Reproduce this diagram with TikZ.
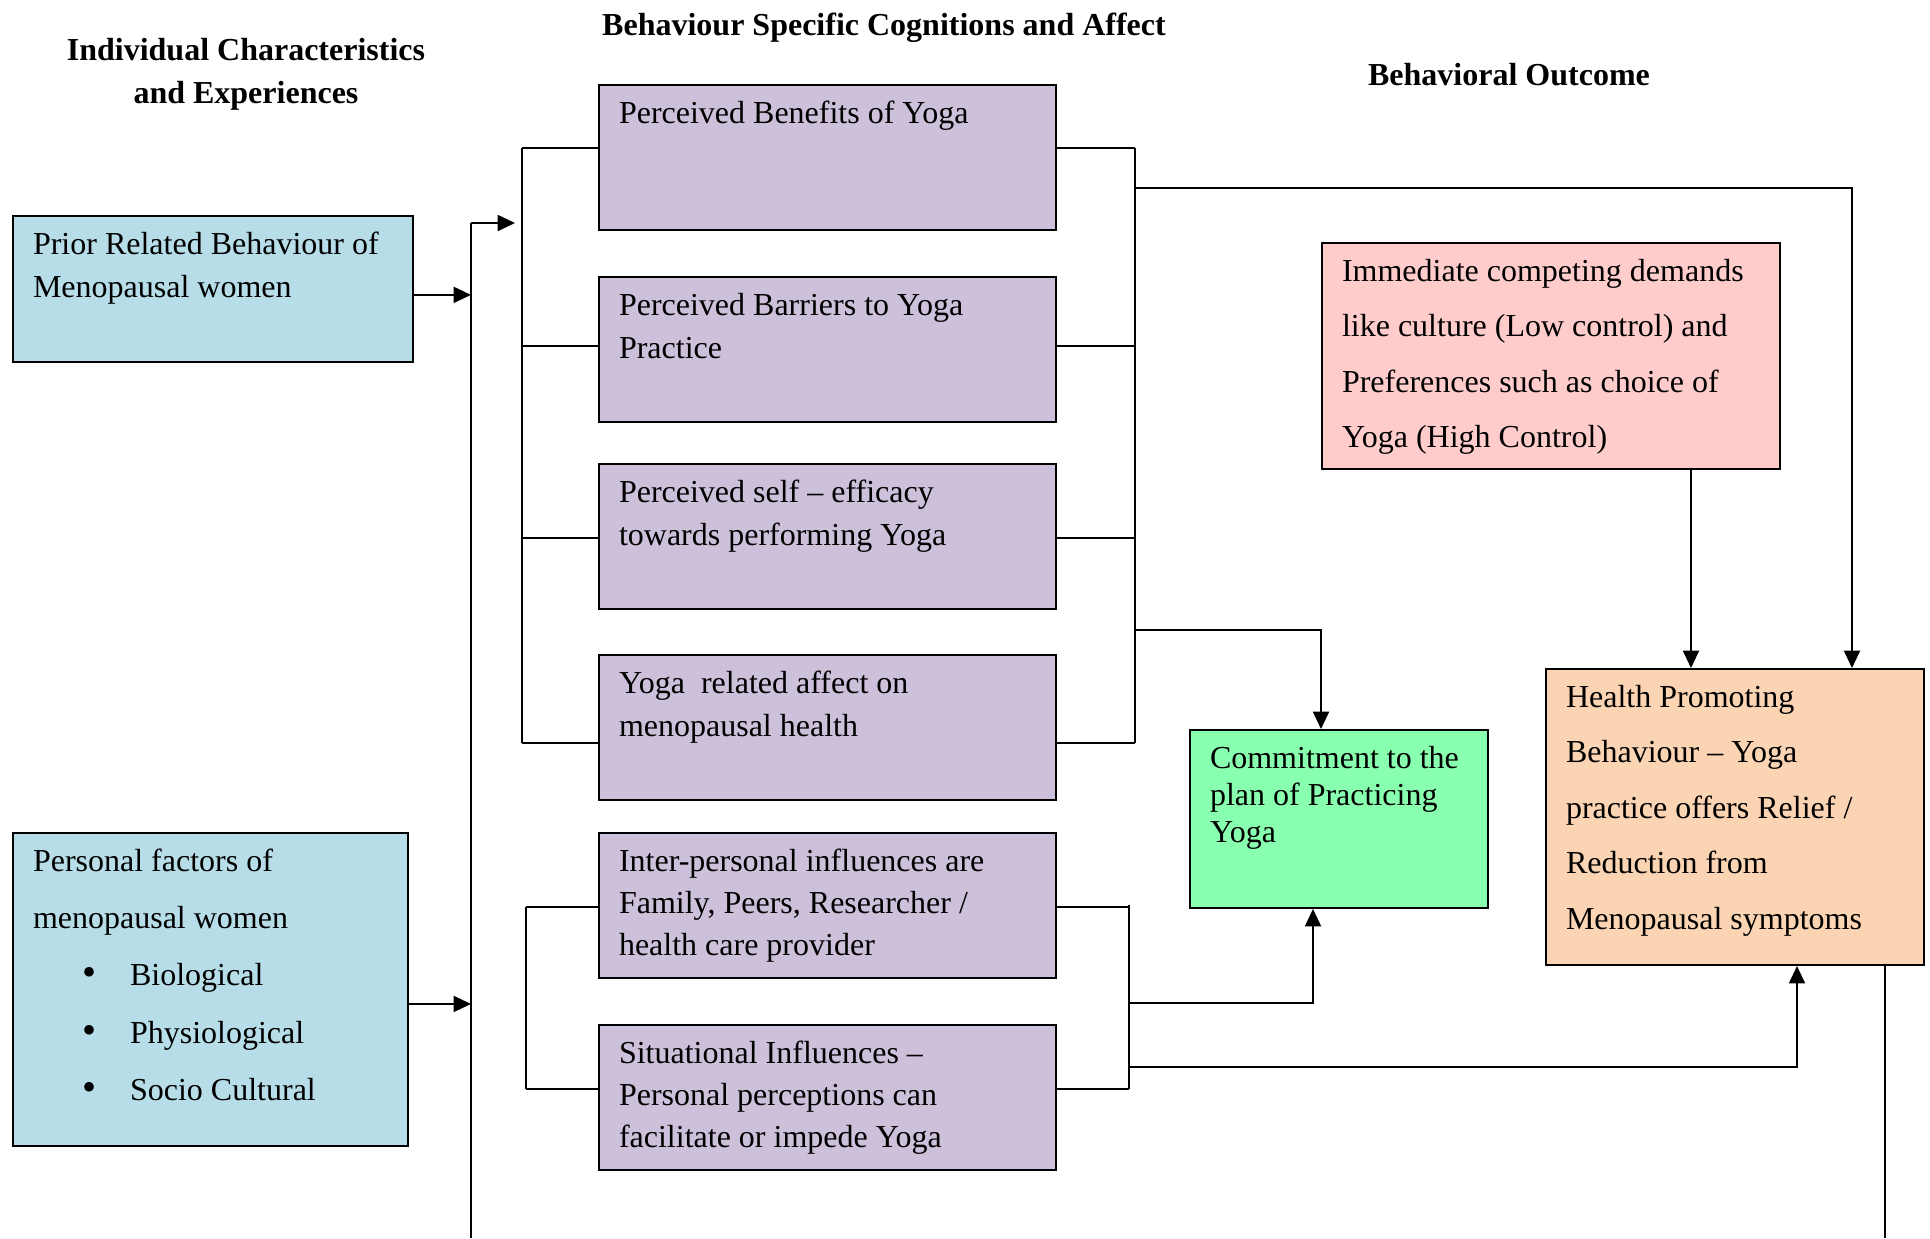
\documentclass[tikz,border=0pt]{standalone}
\usepackage{fontspec}
\setmainfont{Liberation Serif}
\usetikzlibrary{arrows.meta,positioning}
\definecolor{indblue}{HTML}{B7DDE8}
\definecolor{coglilac}{HTML}{CCC0DA}
\definecolor{demandpink}{HTML}{FFCCCC}
\definecolor{commitgreen}{HTML}{89FFB0}
\definecolor{outpeach}{HTML}{FBD4B4}
\newcommand{\boxtext}[4]{\parbox[c][#2][t]{#1}{\fontsize{12}{#3}\selectfont\raggedright\rule{0pt}{14.3pt}#4}}
\newcommand{\bul}[1]{\makebox[36.4pt][l]{\hspace*{18.5pt}{\fontsize{15}{15}\selectfont\textbullet}}#1}
\tikzset{box/.style={draw=black, line width=.75pt, anchor=north west, inner xsep=7.5pt, inner ysep=0pt}, cog/.style={box, fill=coglilac}, link/.style={line width=.7pt}, arr/.style={-{Triangle[length=6.5pt,width=6pt]}, line width=.7pt}, head/.style={font=\fontsize{12}{16.1}\selectfont\bfseries, align=center}}

\begin{document}
\begin{tikzpicture}[x=0.375pt,y=-0.375pt]
\useasboundingbox (0,0) rectangle (1930,1238);
% column titles
\node[head] (indtitle) at (246,74) {Individual Characteristics\\and Experiences};
\node[head] (cogtitle) at (884,28) {Behaviour Specific Cognitions and Affect};
\node[head] (outtitle) at (1509,75) {Behavioral Outcome};
% left column
\node[box, fill=indblue] (prior) at (12,215) {\boxtext{135pt}{54.75pt}{16.1pt}{Prior Related Behaviour of\\Menopausal women}};
\node[box, fill=indblue] (personal) at (12,832) {\boxtext{133pt}{117.4pt}{21.5pt}{Personal factors of\\menopausal women\\\bul{Biological}\\\bul{Physiological}\\\bul{Socio Cultural}}};
% middle column
\node[cog] (ben) at (598,84) {\boxtext{156.4pt}{54.4pt}{16.1pt}{Perceived Benefits of Yoga}};
\node[cog] (bar) at (598,276) {\boxtext{156.4pt}{54.4pt}{16.1pt}{Perceived Barriers to Yoga\\Practice}};
\node[cog] (eff) at (598,463) {\boxtext{156.4pt}{54.4pt}{16.1pt}{Perceived self -- efficacy\\towards performing Yoga}};
\node[cog] (aff) at (598,654) {\boxtext{156.4pt}{54.4pt}{16.1pt}{Yoga\ \ related affect on\\menopausal health}};
\node[cog] (inter) at (598,832) {\boxtext{156.4pt}{54.4pt}{15.9pt}{Inter-personal influences are\\Family, Peers, Researcher /\\health care provider}};
\node[cog] (sit) at (598,1024) {\boxtext{156.4pt}{54.4pt}{15.9pt}{Situational Influences --\\Personal perceptions can\\facilitate or impede Yoga}};
% right column
\node[box, fill=demandpink] (demand) at (1321,242) {\boxtext{156.75pt}{84.75pt}{20.8pt}{Immediate competing demands\\like culture (Low control) and\\Preferences such as choice of\\Yoga (High Control)}};
\node[box, fill=commitgreen] (commit) at (1189,729) {\boxtext{96.75pt}{66.75pt}{14pt}{Commitment to the\\plan of Practicing\\Yoga}};
\node[box, fill=outpeach] (health) at (1545,668) {\boxtext{126.75pt}{111pt}{20.8pt}{Health Promoting\\Behaviour -- Yoga\\practice offers Relief /\\Reduction from\\Menopausal symptoms}};
% trunk on the left
\coordinate (trtop) at (471,223); \coordinate (trbot) at (471,1238); \coordinate (trtip) at (515,223);
\draw[link] (trbot) -- (trtop);
\draw[arr] (trtop) -- (trtip);
\draw[arr] ([yshift=-2.2pt]prior.east) -- ([yshift=-2.2pt]prior.east -| trtop);
\draw[arr] ([yshift=-5.4pt]personal.east) -- ([yshift=-5.4pt]personal.east -| trtop);
% brackets round the cognition boxes
\draw[link] (522,148) -- (522,743);
\draw[link] (1135,148) -- (1135,743);
\foreach \n/\y in {ben/148,bar/346,eff/538,aff/743}{
  \coordinate (l\n) at (522,\y); \coordinate (r\n) at (1135,\y);
  \draw[link] (l\n) -- (l\n -| \n.west);
  \draw[link] (\n.east |- r\n) -- (r\n);
}
\draw[link] (526,907) -- (526,1089);
\draw[link] (1129,905) -- (1129,1089);
\foreach \n/\y in {inter/907,sit/1089}{
  \coordinate (l\n) at (526,\y); \coordinate (r\n) at (1129,\y);
  \draw[link] (l\n) -- (l\n -| \n.west);
  \draw[link] (\n.east |- r\n) -- (r\n);
}
% links to the outcome
\coordinate (cx1) at (1321,0); \coordinate (cx2) at (1313,0);
\coordinate (hx1) at (1691,0); \coordinate (hx2) at (1852,0); \coordinate (hx3) at (1797,0); \coordinate (hx4) at (1885,0);
\coordinate (rtop) at (1135,188); \coordinate (rmid) at (1135,630);
\coordinate (rlow) at (1129,1003); \coordinate (rend) at (1129,1067);
\draw[arr] (rtop) -| (health.north -| hx2);
\draw[arr] (rmid) -| (commit.north -| cx1);
\draw[arr] (demand.south -| hx1) -- (health.north -| hx1);
\draw[arr] (rlow) -| (commit.south -| cx2);
\draw[arr] (rend) -| (health.south -| hx3);
\draw[link] (health.south -| hx4) -- (hx4 |- trbot);
\end{tikzpicture}
\end{document}
